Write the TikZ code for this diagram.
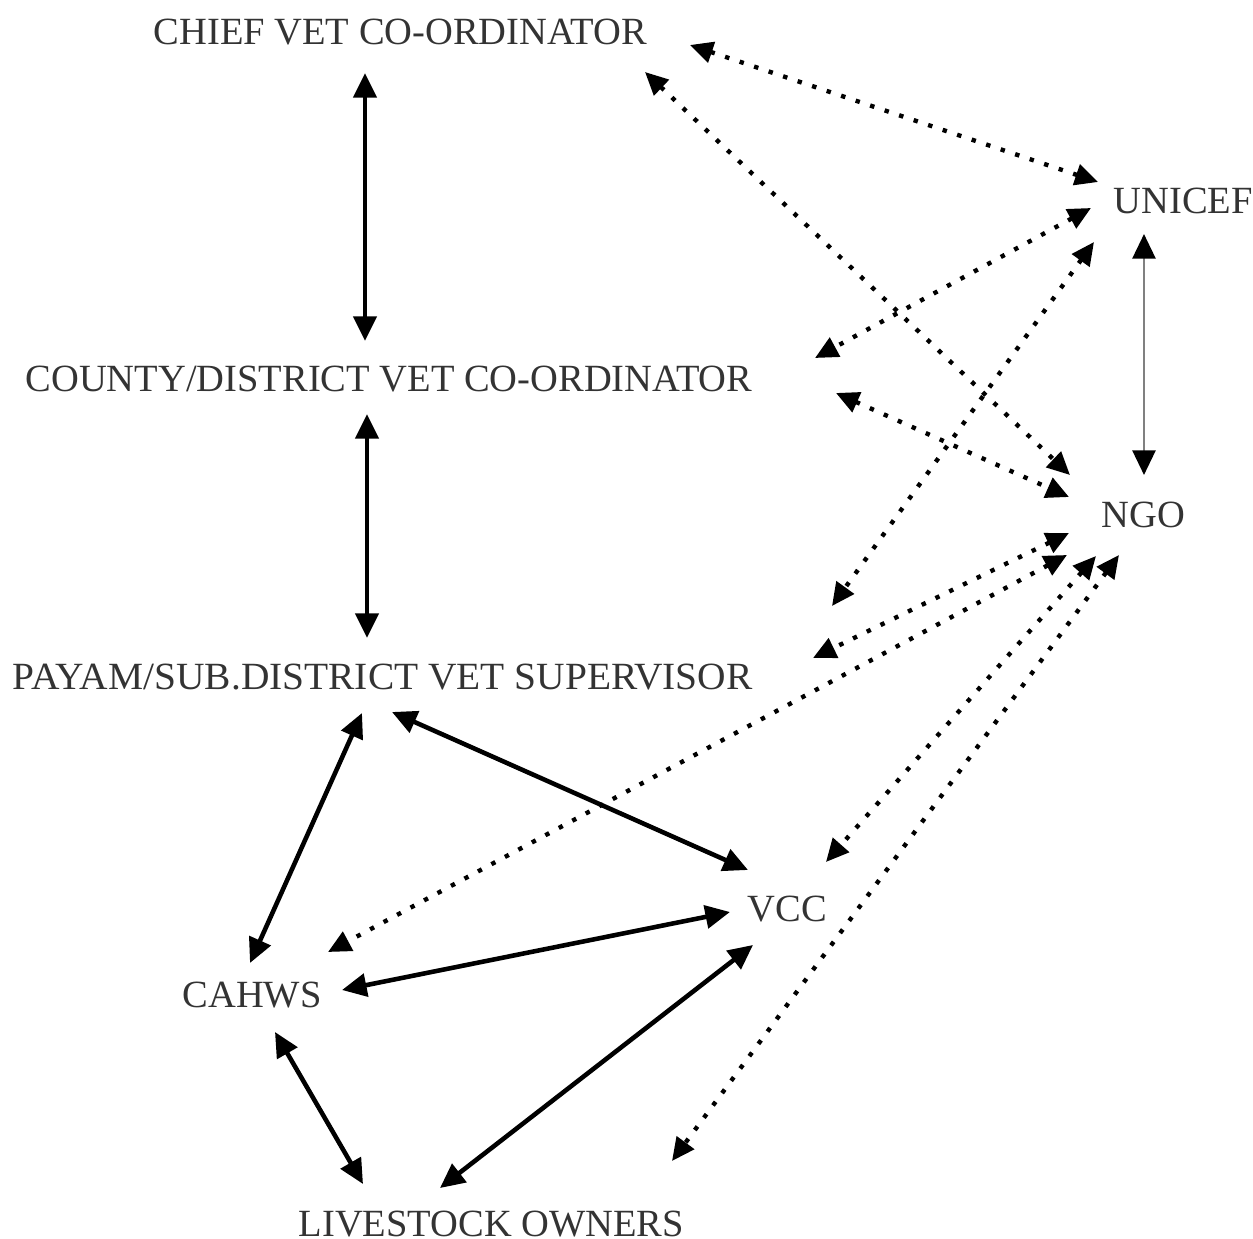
\documentclass[tikz,border=0pt]{standalone}
\usepackage{fontspec}
\usepackage{graphicx}
\setmainfont{Liberation Serif}
\usetikzlibrary{arrows.meta}
\begin{document}
\begin{tikzpicture}[x=0.01cm,y=-0.01cm,
  lbl/.style={anchor=base west,inner sep=0pt,text=black!80,
    font=\fontsize{10.95}{13}\selectfont},
  bigtip/.tip={Triangle[length=7pt,width=6.5pt,color=black]},
  dottip/.tip={Triangle[length=6.5pt,width=6pt,color=black]},
  link/.style={bigtip-bigtip,line width=1.3pt},
  greylink/.style={bigtip-bigtip,line width=0.85pt,draw=black!50},
  dotlink/.style={dottip-dottip,line width=1.25pt,dash pattern=on 1.25pt off 3.1pt}]

\useasboundingbox (0,0) rectangle (1253,1239);

% organisations
\node[lbl] (chief)  at (153,44)   {CHIEF VET CO-ORDINATOR};
\node[lbl] (unicef) at (1113,213) {UNICEF};
\node[lbl] (county) at (25,391)   {COUNTY/DISTRICT VET CO-ORDINATOR};
\node[lbl] (ngo)    at (1101,527) {NGO};
\node[lbl] (payam)  at (12,689)   {\scalebox{1.024}[1]{PAYAM/SUB.DISTRICT VET SUPERVISOR}};
\node[lbl] (vcc)    at (747,921)  {VCC};
\node[lbl] (cahws)  at (182,1007) {CAHWS};
\node[lbl] (owners) at (298,1236) {LIVESTOCK OWNERS};

% arrow ends around the labels
\coordinate (chief-county)  at (365,73);
\coordinate (county-chief)  at (365,341);
\coordinate (county-payam)  at (367,414);
\coordinate (payam-county)  at (367,638);
\coordinate (payam-cahws)   at (362,713);
\coordinate (cahws-payam)   at (250,963);
\coordinate (payam-vcc)     at (392,712);
\coordinate (vcc-payam)     at (748,870);
\coordinate (cahws-vcc)     at (342,990);
\coordinate (vcc-cahws)     at (730,912);
\coordinate (cahws-owners)  at (275,1032);
\coordinate (owners-cahws)  at (363,1184);
\coordinate (owners-vcc)    at (440,1188);
\coordinate (vcc-owners)    at (753,945);
\coordinate (unicef-ngo)    at (1144,234);
\coordinate (ngo-unicef)    at (1144,475);

\coordinate (chief-unicef)  at (690,45);
\coordinate (unicef-chief)  at (1098,182);
\coordinate (chief-ngo)     at (645,72);
\coordinate (ngo-chief)     at (1070,475);
\coordinate (unicef-county) at (1091,208);
\coordinate (county-unicef) at (815,358);
\coordinate (unicef-payam)  at (1094,242);
\coordinate (payam-unicef)  at (832,606);
\coordinate (county-ngo)    at (836,393);
\coordinate (ngo-county)    at (1069,497);
\coordinate (ngo-payam)     at (1069,533);
\coordinate (payam-ngo)     at (813,658);
\coordinate (ngo-cahws)     at (1067,555);
\coordinate (cahws-ngo)     at (328,952);
\coordinate (ngo-vcc)       at (1096,556);
\coordinate (vcc-ngo)       at (826,862);
\coordinate (ngo-owners)    at (1119,555);
\coordinate (owners-ngo)    at (672,1161);

% government chain and field links
\draw[link] (chief-county) -- (county-chief);
\draw[link] (county-payam) -- (payam-county);
\draw[link] (payam-cahws) -- (cahws-payam);
\draw[link] (payam-vcc) -- (vcc-payam);
\draw[link] (cahws-vcc) -- (vcc-cahws);
\draw[link] (cahws-owners) -- (owners-cahws);
\draw[link] (owners-vcc) -- (vcc-owners);
\draw[greylink] (unicef-ngo) -- (ngo-unicef);

% support links
\draw[dotlink] (chief-unicef) -- (unicef-chief);
\draw[dotlink] (chief-ngo) -- (ngo-chief);
\draw[dotlink] (unicef-county) -- (county-unicef);
\draw[dotlink] (unicef-payam) -- (payam-unicef);
\draw[dotlink] (county-ngo) -- (ngo-county);
\draw[dotlink] (ngo-payam) -- (payam-ngo);
\draw[dotlink] (ngo-cahws) -- (cahws-ngo);
\draw[dotlink] (ngo-vcc) -- (vcc-ngo);
\draw[dotlink] (ngo-owners) -- (owners-ngo);

\end{tikzpicture}
\end{document}
